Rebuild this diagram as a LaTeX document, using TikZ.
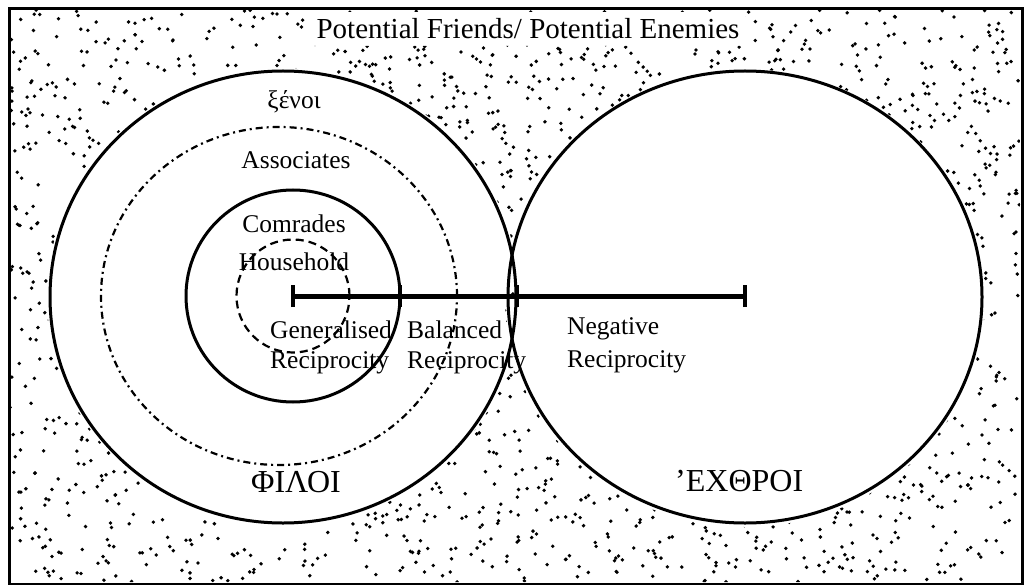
\documentclass[tikz,border=0pt]{standalone}
\usepackage{fontspec}
\setmainfont{Liberation Serif}
\usetikzlibrary{shapes.geometric}
\begin{document}
\begin{tikzpicture}[x=1pt,y=-1pt,
  lbl/.style={font=\fontsize{25.5}{28}\selectfont, inner sep=0pt},
  big/.style={font=\fontsize{32}{34}\selectfont, inner sep=0pt},
  ttl/.style={font=\fontsize{29}{31}\selectfont, inner sep=0pt},
  ring/.style={draw, ellipse, line width=3pt, inner sep=0pt},
  ddot/.style={draw, ellipse, inner sep=0pt, line width=2.2pt, dash pattern=on 7pt off 4pt on 2pt off 4pt},
  dsh/.style={draw, ellipse, inner sep=0pt, line width=2.2pt, dash pattern=on 8pt off 5pt},
  bar/.style={line width=5pt},
  tickmark/.style={line width=4.5pt}]
\useasboundingbox (0,0) rectangle (1024,585);
% stipple background outside the circles
\begin{scope}[even odd rule]
\clip (10,10) rectangle (1020,582)
  (283,297) ellipse [x radius=236pt, y radius=229pt]
  (745,298) ellipse [x radius=240pt, y radius=229pt]
  (312,12) rectangle (745,46);
\pgfmathsetseed{2718}
\foreach \i in {1,...,2700}{
  \pgfmathsetmacro\px{10+1010*rnd}
  \pgfmathsetmacro\py{10+572*rnd}
  \fill (\px,\py) circle (1.9pt);
}
\end{scope}
% frame
\draw[line width=3pt] (9,9) rectangle (1022,584);
% circles
\node[ring, minimum width=466pt, minimum height=452pt] (philoi) at (283,297) {};
\node[ring, minimum width=474pt, minimum height=452pt] (echthroi) at (745,297) {};
\node[ddot, minimum width=356pt, minimum height=338pt] (assoc) at (279,296) {};
\node[ring, minimum width=214pt, minimum height=212pt] (comr) at (293,296) {};
\node[dsh, minimum width=113pt, minimum height=113pt] (house) at (293,296) {};
% reciprocity bar
\coordinate (t0) at (293,296);
\coordinate (t1) at (400,296);
\coordinate (t2) at (517,296);
\coordinate (t3) at (745,296);
\draw[bar] (t0) -- (t3);
\foreach \t in {t0,t1,t2,t3}{
  \draw[tickmark] ([yshift=-11pt]\t) -- ([yshift=11pt]\t);
}
% labels
\node[ttl] (title) at (528,29) {Potential Friends/ Potential Enemies};
\node[lbl] (xenoi) at (294,102) {ξένοι};
\node[lbl] (lassoc) at (296,160) {Associates};
\node[lbl] (lcomr) at (294,224) {Comrades};
\node[lbl] (lhouse) at (294,262) {Household};
\node[lbl, anchor=west] (gen1) at (270,330) {Generalised};
\node[lbl, anchor=west] (gen2) at (270,363) {Reciprocity};
\node[lbl, anchor=west] (bal1) at (407,330) {Balanced};
\node[lbl, anchor=west] (bal2) at (407,363) {Reciprocity};
\node[lbl, anchor=west] (neg1) at (567,329) {Negative};
\node[lbl, anchor=west] (neg2) at (567,362) {Reciprocity};
\node[big] (lphiloi) at (296,482) {ΦΙΛΟΙ};
\node[big, anchor=west] (lechthroi) at (675,481) {’ΕΧΘΡΟΙ};
\end{tikzpicture}
\end{document}
